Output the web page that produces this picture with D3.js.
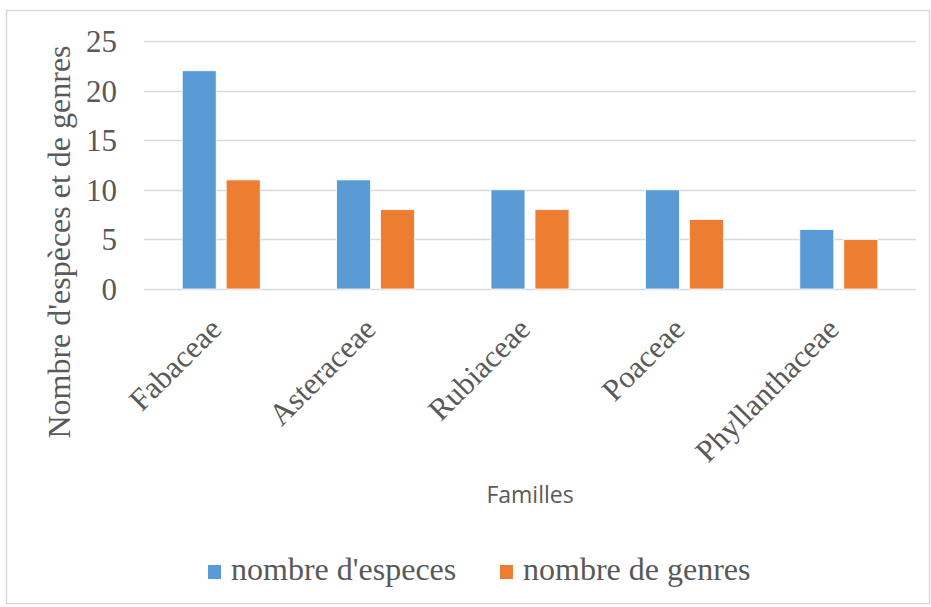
<!DOCTYPE html>
<html>
<head>
<meta charset="utf-8">
<script src="https://cdn.jsdelivr.net/npm/d3@7"></script>
<style>
  body { margin: 0; background: #fff; }
</style>
</head>
<body>
<svg width="931" height="607"></svg>
<script>
// data
var familles = ["Fabaceae", "Asteraceae", "Rubiaceae", "Poaceae", "Phyllanthaceae"];
var nbEspeces = [22, 11, 10, 10, 6];
var nbGenres = [11, 8, 8, 7, 5];
var seriesNames = ["nombre d'especes", "nombre de genres"];
var yTicks = [0, 5, 10, 15, 20, 25];

var svg = d3.select("svg"),
    width = +svg.attr("width"),
    height = +svg.attr("height");

var colours = ["#5B9BD5", "#ED7D31"];
var textColour = "#595959";
var serif = "'Liberation Serif', 'Times New Roman', serif";

// chart border
svg.append("rect")
    .attr("x", 6.5).attr("y", 10.5)
    .attr("width", width - 8).attr("height", height - 14)
    .attr("fill", "#fff")
    .attr("stroke", "#D9D9D9")
    .attr("stroke-width", 1.5);

var plot = { left: 144, right: 916, top: 41, bottom: 289 };

var x = d3.scaleBand()
    .domain(familles)
    .range([plot.left, plot.right]);

var y = d3.scaleLinear()
    .domain([0, 25])
    .range([plot.bottom, plot.top]);

var x1 = d3.scaleBand()
    .domain([0, 1])
    .range([0, 78])
    .paddingInner(0.227);

//gridlines
svg.append("g")
    .selectAll("line")
    .data(yTicks)
    .enter().append("line")
      .attr("x1", plot.left).attr("x2", plot.right)
      .attr("y1", function (d) { return Math.round(y(d)) + 0.5; })
      .attr("y2", function (d) { return Math.round(y(d)) + 0.5; })
      .attr("stroke", "#D9D9D9")
      .attr("stroke-width", 1.3);

//y axis labels
var yAxis = d3.axisLeft(y).tickValues(yTicks).tickSize(0).tickPadding(0);
var yg = svg.append("g")
    .attr("transform", "translate(117,0)")
    .call(yAxis);
yg.select(".domain").remove();
yg.selectAll("text")
    .attr("font-family", serif)
    .attr("font-size", 31)
    .attr("fill", textColour)
    .attr("dy", "0.34em");

//bars
var rows = familles.map(function (f, i) { return { fam: f, vals: [nbEspeces[i], nbGenres[i]] }; });
var groups = svg.append("g")
    .selectAll("g")
    .data(rows)
    .enter().append("g")
      .attr("transform", function (d) { return "translate(" + (x(d.fam) + x.bandwidth() / 2 - 39) + ",0)"; });

groups.selectAll("rect")
    .data(function (d) { return d.vals.map(function (v, k) { return { k: k, v: v }; }); })
    .enter().append("rect")
      .attr("x", function (d) { return x1(d.k); })
      .attr("width", x1.bandwidth())
      .attr("y", function (d) { return y(d.v); })
      .attr("height", function (d) { return y(0) - y(d.v); })
      .attr("fill", function (d) { return colours[d.k]; })
      .attr("stroke", "#fff")
      .attr("stroke-width", 0.8);

//x labels, rotated
svg.append("g")
    .selectAll("text")
    .data(familles)
    .enter().append("text")
      .attr("transform", function (d) { return "translate(" + (x(d) + x.bandwidth() / 2 + 2) + ",331) rotate(-45)"; })
      .attr("text-anchor", "end")
      .attr("font-family", serif)
      .attr("font-size", 31)
      .attr("fill", textColour)
      .text(function (d) { return d; });

//axis titles
svg.append("text")
    .attr("transform", "translate(70,242) rotate(-90)")
    .attr("text-anchor", "middle")
    .attr("font-family", serif)
    .attr("font-size", 32)
    .attr("fill", textColour)
    .text("Nombre d'espèces et de genres");

svg.append("text")
    .attr("x", (plot.left + plot.right) / 2)
    .attr("y", 503)
    .attr("text-anchor", "middle")
    .attr("font-family", "'Open Sans', 'Noto Sans', sans-serif")
    .attr("font-size", 23)
    .attr("fill", textColour)
    .text("Familles");

//legend
var legendX = [208, 500];
var legend = svg.append("g")
    .selectAll("g")
    .data(seriesNames)
    .enter().append("g")
      .attr("transform", function (d, i) { return "translate(" + legendX[i] + ",565)"; });

legend.append("rect")
    .attr("width", 13).attr("height", 14)
    .attr("fill", function (d, i) { return colours[i]; });

legend.append("text")
    .attr("x", 23)
    .attr("y", 15)
    .attr("font-family", serif)
    .attr("font-size", 32)
    .attr("fill", textColour)
    .text(function (d) { return d; });
</script>
</body>
</html>
